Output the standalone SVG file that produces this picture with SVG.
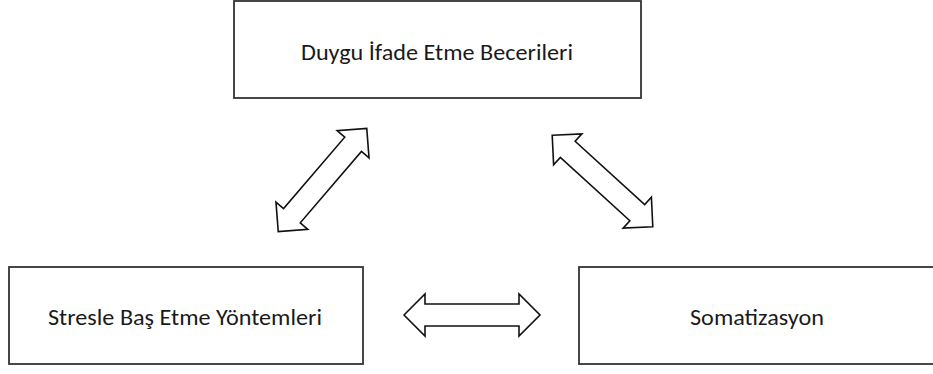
<svg xmlns="http://www.w3.org/2000/svg" xmlns:xlink="http://www.w3.org/1999/xlink" width="933" height="374" viewBox="0 0 933 374">
<style>
.box{fill:#fff;stroke:#333;stroke-width:1.8}
.lbl{font-family:Carlito,"Open Sans","Noto Sans",sans-serif;font-size:22px;fill:#1a1a1a;text-anchor:middle}
.arr{fill:#fff;stroke:#111;stroke-width:1.6;stroke-linejoin:miter}
</style>
<defs>
<polygon id="dbl" class="arr" points="-68,0 -47,-21 -47,-11 47,-11 47,-21 68,0 47,21 47,11 -47,11 -47,21"/>
</defs>
<rect width="933" height="374" fill="#fff"/>
<g id="node-duygu">
<rect class="box" x="234" y="1" width="407" height="97"/>
<text class="lbl" x="437" y="60" textLength="272" lengthAdjust="spacingAndGlyphs">Duygu İfade Etme Becerileri</text>
</g>
<g id="node-stres">
<rect class="box" x="9" y="267" width="354" height="97"/>
<text class="lbl" x="185" y="325" textLength="274" lengthAdjust="spacingAndGlyphs">Stresle Baş Etme Yöntemleri</text>
</g>
<g id="node-somatizasyon">
<rect class="box" x="579" y="267" width="356" height="97"/>
<text class="lbl" x="757" y="325" textLength="134" lengthAdjust="spacingAndGlyphs">Somatizasyon</text>
</g>
<g id="connectors">
<use xlink:href="#dbl" transform="translate(322.5,180) rotate(-49.4)"/>
<use xlink:href="#dbl" transform="translate(602.5,181) rotate(42.3)"/>
<use xlink:href="#dbl" transform="translate(472,315)"/>
</g>
</svg>
